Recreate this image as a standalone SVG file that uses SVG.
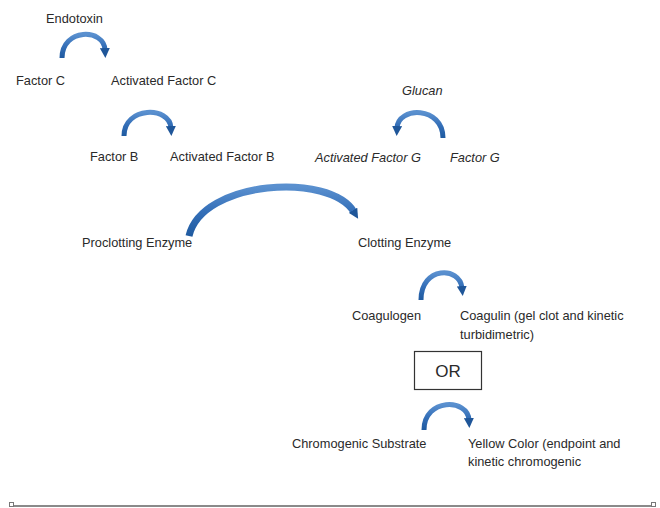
<svg xmlns="http://www.w3.org/2000/svg" width="660" height="508" viewBox="0 0 660 508">
<style>
text{font-family:"Liberation Sans",Arial,sans-serif;font-size:12.8px;fill:#2a2a2a}
.it{font-style:italic}
.arc{fill:none;stroke:url(#g);stroke-width:5;marker-end:url(#ah)}
.big{stroke-width:7}
</style>
<defs>
<linearGradient id="g" x1="0" y1="0" x2="0" y2="1">
<stop offset="0" stop-color="#5a90cf"/>
<stop offset="0.5" stop-color="#346fb8"/>
<stop offset="1" stop-color="#1f5aa0"/>
</linearGradient>
<marker id="ah" viewBox="0 0 10 10" markerWidth="10" markerHeight="10" refX="2" refY="5" orient="auto" markerUnits="userSpaceOnUse">
<path d="M0,0 L10,5 L0,10 z" fill="#1f5699"/>
</marker>
</defs>
<rect width="660" height="508" fill="#fff"/>
<g id="connectors">
<path class="arc" d="M62,58 C62,28 104,28 105,50"/>
<path class="arc" d="M124,136 C124,106 170,106 171,128"/>
<path class="arc" d="M443,138 C443,106 398,106 397,128"/>
<path class="arc big" d="M189,236 C202,180 330,172 354,212"/>
<path class="arc" d="M421,300 C421,266 460,266 462,288"/>
<path class="arc" d="M424,430 C424,398 468,398 469,420"/>
</g>
<g id="endotoxin"><text x="46" y="23">Endotoxin</text></g>
<g id="factor-c"><text x="16" y="85">Factor C</text></g>
<g id="activated-factor-c"><text x="111" y="85">Activated Factor C</text></g>
<g id="factor-b"><text x="90" y="161">Factor B</text></g>
<g id="activated-factor-b"><text x="170" y="161">Activated Factor B</text></g>
<g id="glucan"><text class="it" x="402" y="95">Glucan</text></g>
<g id="activated-factor-g"><text class="it" x="315" y="162">Activated Factor G</text></g>
<g id="factor-g"><text class="it" x="450" y="162">Factor G</text></g>
<g id="proclotting-enzyme"><text x="82" y="247">Proclotting Enzyme</text></g>
<g id="clotting-enzyme"><text x="358" y="247">Clotting Enzyme</text></g>
<g id="coagulogen"><text x="352" y="320">Coagulogen</text></g>
<g id="coagulin"><text x="460" y="320">Coagulin (gel clot and kinetic</text><text x="460" y="339">turbidimetric)</text></g>
<g id="or"><rect x="414.5" y="351.5" width="67" height="38" fill="#fff" stroke="#333" stroke-width="1.2"/><text x="448" y="377" text-anchor="middle" style="font-size:17px">OR</text></g>
<g id="chromogenic-substrate"><text x="292" y="448">Chromogenic Substrate</text></g>
<g id="yellow-color"><text x="468" y="448">Yellow Color (endpoint and</text><text x="468" y="466">kinetic chromogenic</text></g>
<g id="bottom-rule">
<line x1="14" y1="506" x2="651" y2="506" stroke="#8a8a8a" stroke-width="2"/>
<rect x="9.5" y="502.5" width="4" height="4" fill="#fff" stroke="#777"/>
<rect x="651.5" y="502.5" width="4" height="4" fill="#fff" stroke="#777"/>
</g>
</svg>
